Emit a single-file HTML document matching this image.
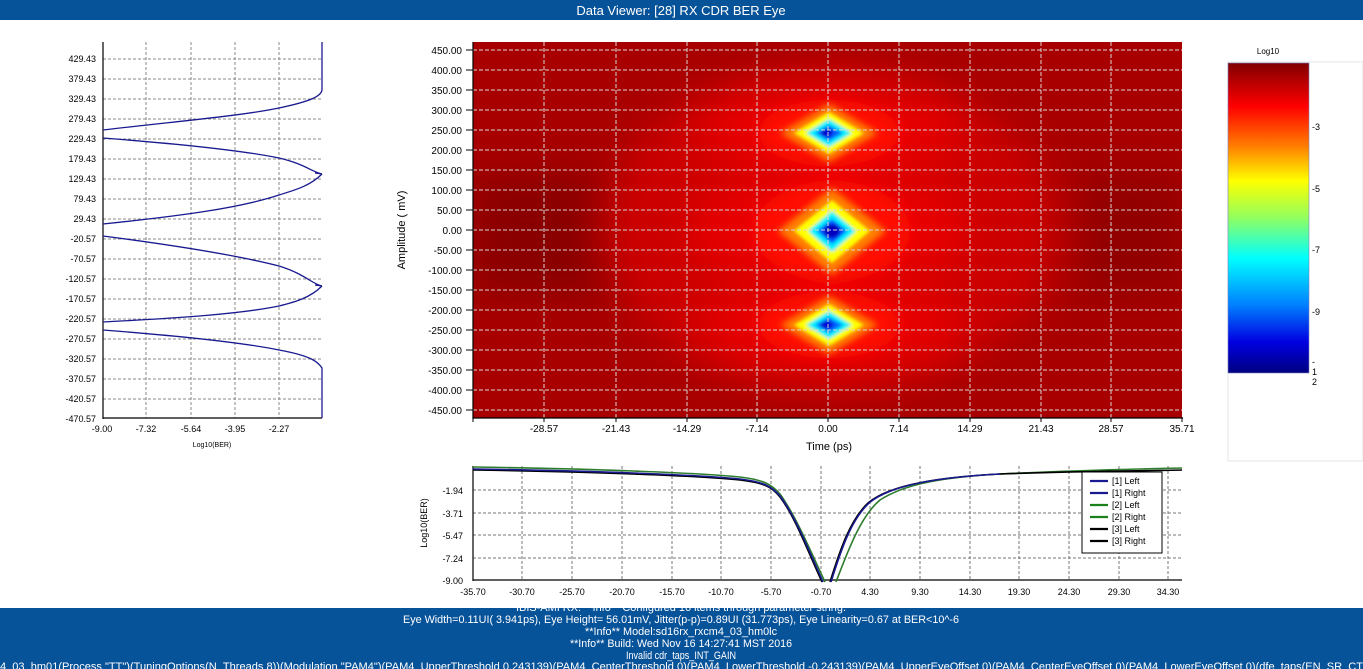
<!DOCTYPE html>
<html><head><meta charset="utf-8"><style>
html,body{margin:0;padding:0;width:1363px;height:669px;overflow:hidden;background:#fff;font-family:"Liberation Sans",sans-serif;}
svg text{font-family:"Liberation Sans",sans-serif;}
</style></head><body>
<svg width="1363" height="669" viewBox="0 0 1363 669" xmlns="http://www.w3.org/2000/svg">
<defs>
<linearGradient id="cb" x1="0" y1="0" x2="0" y2="1">
<stop offset="0" stop-color="#800000"/><stop offset="0.14" stop-color="#ff0000"/>
<stop offset="0.27" stop-color="#ff8000"/><stop offset="0.38" stop-color="#ffff00"/>
<stop offset="0.5" stop-color="#90ff60"/><stop offset="0.63" stop-color="#00ffff"/>
<stop offset="0.78" stop-color="#0080ff"/><stop offset="0.9" stop-color="#0000e0"/>
<stop offset="1" stop-color="#000080"/></linearGradient>
<filter id="b8" x="-50%" y="-50%" width="200%" height="200%"><feGaussianBlur stdDeviation="8"/></filter>
<filter id="b4" x="-50%" y="-50%" width="200%" height="200%"><feGaussianBlur stdDeviation="3.5"/></filter>
<filter id="b2" x="-50%" y="-50%" width="200%" height="200%"><feGaussianBlur stdDeviation="1.5"/></filter>
<filter id="b20" x="-50%" y="-50%" width="200%" height="200%"><feGaussianBlur stdDeviation="20"/></filter>
<clipPath id="hc"><rect x="473" y="42" width="709" height="376"/></clipPath>
</defs>
<rect x="0" y="0" width="1363" height="20" fill="#07539a"/>
<text x="681" y="15" fill="#fff" font-size="13" text-anchor="middle">Data Viewer: [28] RX CDR BER Eye</text>

<g clip-path="url(#hc)">
<rect x="473" y="42" width="709" height="376" fill="#a80000"/>
<rect x="473" y="175" width="280" height="120" fill="#8a0000" filter="url(#b20)"/>
<rect x="1080" y="175" width="102" height="120" fill="#920000" filter="url(#b20)"/>
<ellipse cx="829" cy="230" rx="230" ry="160" fill="#cc0000" filter="url(#b20)"/>
<ellipse cx="829" cy="133" rx="130" ry="45" fill="#e80000" filter="url(#b20)"/>
<ellipse cx="829" cy="230" rx="140" ry="60" fill="#e80000" filter="url(#b20)"/>
<ellipse cx="829" cy="325" rx="130" ry="45" fill="#e80000" filter="url(#b20)"/>
<g filter="url(#b8)">
<ellipse cx="829" cy="133" rx="70" ry="33" fill="#ff1000"/>
<ellipse cx="832" cy="231" rx="78" ry="50" fill="#ff1000"/>
<ellipse cx="829" cy="325" rx="70" ry="33" fill="#ff1000"/>
</g>
<g filter="url(#b4)">
<polygon points="780,133 829,104 878,133 829,162" fill="#ff8000"/>
<polygon points="778,231 832,188 886,231 832,275" fill="#ff8000"/>
<polygon points="780,325 829,296 878,325 829,354" fill="#ff8000"/>
</g>
<g filter="url(#b2)">
<polygon points="794,133 829,112 864,133 829,154" fill="#ffff00"/>
<polygon points="794,231 832,200 870,231 832,263" fill="#ffff00"/>
<polygon points="794,325 829,304 864,325 829,346" fill="#ffff00"/>
<polygon points="806,133 829,119 852,133 829,147" fill="#00f0ff"/>
<polygon points="808,231 832,211 856,231 832,252" fill="#00f0ff"/>
<polygon points="806,325 829,311 852,325 829,339" fill="#00f0ff"/>
<polygon points="815,133 829,125 843,133 829,141" fill="#0060ff"/>
<polygon points="817,231 832,219 847,231 832,244" fill="#0050ff"/>
<polygon points="815,325 829,317 843,325 829,333" fill="#0060ff"/>
<ellipse cx="827" cy="133" rx="6" ry="4" fill="#0000d0"/>
<ellipse cx="832" cy="231" rx="8" ry="7" fill="#0000c0"/>
<ellipse cx="827" cy="325" rx="6" ry="4" fill="#0000d0"/>
</g>
</g>
<g stroke="#d8d8d8" stroke-width="1" stroke-dasharray="4,2">
<line x1="544" y1="42" x2="544" y2="418"/><line x1="616" y1="42" x2="616" y2="418"/><line x1="687" y1="42" x2="687" y2="418"/><line x1="757" y1="42" x2="757" y2="418"/><line x1="828" y1="42" x2="828" y2="418"/><line x1="899" y1="42" x2="899" y2="418"/><line x1="970" y1="42" x2="970" y2="418"/><line x1="1041" y1="42" x2="1041" y2="418"/><line x1="1111" y1="42" x2="1111" y2="418"/>
<line x1="473" y1="50" x2="1182" y2="50"/><line x1="473" y1="70" x2="1182" y2="70"/><line x1="473" y1="90" x2="1182" y2="90"/><line x1="473" y1="110" x2="1182" y2="110"/><line x1="473" y1="130" x2="1182" y2="130"/><line x1="473" y1="150" x2="1182" y2="150"/><line x1="473" y1="170" x2="1182" y2="170"/><line x1="473" y1="190" x2="1182" y2="190"/><line x1="473" y1="210" x2="1182" y2="210"/><line x1="473" y1="230" x2="1182" y2="230"/><line x1="473" y1="250" x2="1182" y2="250"/><line x1="473" y1="270" x2="1182" y2="270"/><line x1="473" y1="290" x2="1182" y2="290"/><line x1="473" y1="310" x2="1182" y2="310"/><line x1="473" y1="330" x2="1182" y2="330"/><line x1="473" y1="350" x2="1182" y2="350"/><line x1="473" y1="370" x2="1182" y2="370"/><line x1="473" y1="390" x2="1182" y2="390"/><line x1="473" y1="410" x2="1182" y2="410"/>
</g>
<g stroke="#000" stroke-width="1.2">
<line x1="473" y1="42" x2="473" y2="419"/><line x1="473" y1="418" x2="1183" y2="418"/>
</g>
<g stroke="#000" stroke-width="1">
<line x1="466" y1="50" x2="473" y2="50"/><line x1="466" y1="70" x2="473" y2="70"/><line x1="466" y1="90" x2="473" y2="90"/><line x1="466" y1="110" x2="473" y2="110"/><line x1="466" y1="130" x2="473" y2="130"/><line x1="466" y1="150" x2="473" y2="150"/><line x1="466" y1="170" x2="473" y2="170"/><line x1="466" y1="190" x2="473" y2="190"/><line x1="466" y1="210" x2="473" y2="210"/><line x1="466" y1="230" x2="473" y2="230"/><line x1="466" y1="250" x2="473" y2="250"/><line x1="466" y1="270" x2="473" y2="270"/><line x1="466" y1="290" x2="473" y2="290"/><line x1="466" y1="310" x2="473" y2="310"/><line x1="466" y1="330" x2="473" y2="330"/><line x1="466" y1="350" x2="473" y2="350"/><line x1="466" y1="370" x2="473" y2="370"/><line x1="466" y1="390" x2="473" y2="390"/><line x1="466" y1="410" x2="473" y2="410"/>
<line x1="473" y1="418" x2="473" y2="422"/><line x1="544" y1="418" x2="544" y2="422"/><line x1="616" y1="418" x2="616" y2="422"/><line x1="687" y1="418" x2="687" y2="422"/><line x1="757" y1="418" x2="757" y2="422"/><line x1="828" y1="418" x2="828" y2="422"/><line x1="899" y1="418" x2="899" y2="422"/><line x1="970" y1="418" x2="970" y2="422"/><line x1="1041" y1="418" x2="1041" y2="422"/><line x1="1111" y1="418" x2="1111" y2="422"/><line x1="1182" y1="418" x2="1182" y2="422"/>
</g>
<g font-size="10" fill="#000" text-anchor="end">
<text x="462" y="54">450.00</text><text x="462" y="74">400.00</text><text x="462" y="94">350.00</text><text x="462" y="114">300.00</text><text x="462" y="134">250.00</text><text x="462" y="154">200.00</text><text x="462" y="174">150.00</text><text x="462" y="194">100.00</text><text x="462" y="214">50.00</text><text x="462" y="234">0.00</text><text x="462" y="254">-50.00</text><text x="462" y="274">-100.00</text><text x="462" y="294">-150.00</text><text x="462" y="314">-200.00</text><text x="462" y="334">-250.00</text><text x="462" y="354">-300.00</text><text x="462" y="374">-350.00</text><text x="462" y="394">-400.00</text><text x="462" y="414">-450.00</text>
</g>
<g font-size="10" fill="#000" text-anchor="middle">
<text x="544" y="432">-28.57</text><text x="616" y="432">-21.43</text><text x="687" y="432">-14.29</text><text x="757" y="432">-7.14</text><text x="828" y="432">0.00</text><text x="899" y="432">7.14</text><text x="970" y="432">14.29</text><text x="1041" y="432">21.43</text><text x="1182" y="432">35.71</text><text x="1111" y="432">28.57</text>
</g>
<text x="829" y="450" font-size="11" text-anchor="middle">Time (ps)</text>
<text transform="translate(405,230) rotate(-90)" font-size="11" text-anchor="middle">Amplitude ( mV)</text>

<rect x="1228" y="62" width="135" height="399" fill="#fff" stroke="#e4e4e4"/>
<rect x="1228" y="63" width="81" height="310" fill="url(#cb)" stroke="#8080c0" stroke-width="0.6"/>
<text x="1268" y="54" font-size="8" text-anchor="middle">Log10</text>
<g font-size="9" fill="#000">
<text x="1312" y="130">-3</text><text x="1312" y="192">-5</text><text x="1312" y="253">-7</text><text x="1312" y="315">-9</text><text x="1312" y="365">-</text><text x="1312" y="375">1</text><text x="1312" y="385">2</text>
</g>

<g stroke="#888" stroke-width="1" stroke-dasharray="3,2">
<line x1="146" y1="42" x2="146" y2="418"/><line x1="191" y1="42" x2="191" y2="418"/><line x1="235" y1="42" x2="235" y2="418"/><line x1="279" y1="42" x2="279" y2="418"/>
<line x1="103" y1="59" x2="322" y2="59"/><line x1="103" y1="79" x2="322" y2="79"/><line x1="103" y1="99" x2="322" y2="99"/><line x1="103" y1="119" x2="322" y2="119"/><line x1="103" y1="139" x2="322" y2="139"/><line x1="103" y1="159" x2="322" y2="159"/><line x1="103" y1="179" x2="322" y2="179"/><line x1="103" y1="199" x2="322" y2="199"/><line x1="103" y1="219" x2="322" y2="219"/><line x1="103" y1="239" x2="322" y2="239"/><line x1="103" y1="259" x2="322" y2="259"/><line x1="103" y1="279" x2="322" y2="279"/><line x1="103" y1="299" x2="322" y2="299"/><line x1="103" y1="319" x2="322" y2="319"/><line x1="103" y1="339" x2="322" y2="339"/><line x1="103" y1="359" x2="322" y2="359"/><line x1="103" y1="379" x2="322" y2="379"/><line x1="103" y1="399" x2="322" y2="399"/>
</g>
<g stroke="#000" stroke-width="1.2"><line x1="103" y1="42" x2="103" y2="419"/><line x1="103" y1="418" x2="322" y2="418"/></g>
<g font-size="9" fill="#000" text-anchor="end">
<text x="96" y="62">429.43</text><text x="96" y="82">379.43</text><text x="96" y="102">329.43</text><text x="96" y="122">279.43</text><text x="96" y="142">229.43</text><text x="96" y="162">179.43</text><text x="96" y="182">129.43</text><text x="96" y="202">79.43</text><text x="96" y="222">29.43</text><text x="96" y="242">-20.57</text><text x="96" y="262">-70.57</text><text x="96" y="282">-120.57</text><text x="96" y="302">-170.57</text><text x="96" y="322">-220.57</text><text x="96" y="342">-270.57</text><text x="96" y="362">-320.57</text><text x="96" y="382">-370.57</text><text x="96" y="402">-420.57</text><text x="96" y="422">-470.57</text>
</g>
<g font-size="9" fill="#000" text-anchor="middle">
<text x="102" y="432">-9.00</text><text x="146" y="432">-7.32</text><text x="191" y="432">-5.64</text><text x="235" y="432">-3.95</text><text x="279" y="432">-2.27</text>
</g>
<text x="212" y="447" font-size="7" text-anchor="middle">Log10(BER)</text>
<g fill="none" stroke="#1a1a90" stroke-width="1.3">
<path d="M322,42 L322,90 C321,96 312,101 279,108 C240,116 180,121 103,130"/>
<path d="M103,138 C180,144 240,150 279,158 C305,164 312,172 322,174 L315,173"/>
<path d="M322,174 C310,186 295,190 279,195 C240,208 180,216 103,224"/>
<path d="M103,236 C180,246 240,256 279,266 C305,274 312,284 322,286 L315,285"/>
<path d="M322,286 C310,298 295,302 279,306 C240,314 180,318 103,322"/>
<path d="M103,330 C180,336 240,342 279,350 C312,356 318,362 322,368 L322,418"/>
</g>

<g stroke="#777" stroke-width="1" stroke-dasharray="3,2">
<line x1="473" y1="490" x2="1182" y2="490"/><line x1="473" y1="513" x2="1182" y2="513"/><line x1="473" y1="535" x2="1182" y2="535"/><line x1="473" y1="558" x2="1182" y2="558"/>
<line x1="522" y1="466" x2="522" y2="580"/><line x1="572" y1="466" x2="572" y2="580"/><line x1="622" y1="466" x2="622" y2="580"/><line x1="672" y1="466" x2="672" y2="580"/><line x1="721" y1="466" x2="721" y2="580"/><line x1="771" y1="466" x2="771" y2="580"/><line x1="821" y1="466" x2="821" y2="580"/><line x1="870" y1="466" x2="870" y2="580"/><line x1="920" y1="466" x2="920" y2="580"/><line x1="970" y1="466" x2="970" y2="580"/><line x1="1019" y1="466" x2="1019" y2="580"/><line x1="1069" y1="466" x2="1069" y2="580"/><line x1="1119" y1="466" x2="1119" y2="580"/><line x1="1168" y1="466" x2="1168" y2="580"/>
</g>
<g stroke="#000" stroke-width="1.2"><line x1="473" y1="466" x2="473" y2="581"/><line x1="473" y1="580" x2="1182" y2="580"/></g>
<g fill="none" stroke-width="1.6">
<path d="M473,467 C600,469 700,473 740,477 C765,480 772,485 780,494 C795,515 808,545 825,582" stroke="#2e7d2e"/>
<path d="M473,470 C600,472 700,476 740,480 C765,483 772,487 780,497 C795,517 806,547 822,582" stroke="#000"/>
<path d="M473,469 C600,471 700,475 740,479 C765,482 772,487 780,496 C795,516 807,546 823,582" stroke="#1a1a90"/>
<path d="M836,582 C850,545 862,515 880,500 C900,487 930,478 1000,474 C1080,470 1140,469 1182,468" stroke="#2e7d2e"/>
<path d="M830,582 C840,550 850,520 868,503 C885,489 920,478 1000,474 C1080,471 1140,471 1182,470" stroke="#000"/>
<path d="M831,582 C841,550 851,520 869,503 C886,489 921,478 1000,474" stroke="#1a1a90"/>
</g>
<rect x="1082" y="472" width="80" height="81" fill="#fff" stroke="#000"/>
<g stroke-width="2.2">
<line x1="1090" y1="481" x2="1108" y2="481" stroke="#1a1a90"/><line x1="1090" y1="493" x2="1108" y2="493" stroke="#1a1a90"/>
<line x1="1090" y1="505" x2="1108" y2="505" stroke="#1a801a"/><line x1="1090" y1="517" x2="1108" y2="517" stroke="#1a801a"/>
<line x1="1090" y1="529" x2="1108" y2="529" stroke="#000"/><line x1="1090" y1="541" x2="1108" y2="541" stroke="#000"/>
</g>
<g font-size="9" fill="#000">
<text x="1112" y="484">[1] Left</text><text x="1112" y="496">[1] Right</text><text x="1112" y="508">[2] Left</text><text x="1112" y="520">[2] Right</text><text x="1112" y="532">[3] Left</text><text x="1112" y="544">[3] Right</text>
</g>
<g font-size="9" fill="#000" text-anchor="end">
<text x="463" y="494">-1.94</text><text x="463" y="517">-3.71</text><text x="463" y="539">-5.47</text><text x="463" y="562">-7.24</text><text x="463" y="584">-9.00</text>
</g>
<g font-size="9" fill="#000" text-anchor="middle">
<text x="473" y="595">-35.70</text><text x="522" y="595">-30.70</text><text x="572" y="595">-25.70</text><text x="622" y="595">-20.70</text><text x="672" y="595">-15.70</text><text x="721" y="595">-10.70</text><text x="771" y="595">-5.70</text><text x="821" y="595">-0.70</text><text x="870" y="595">4.30</text><text x="920" y="595">9.30</text><text x="970" y="595">14.30</text><text x="1019" y="595">19.30</text><text x="1069" y="595">24.30</text><text x="1119" y="595">29.30</text><text x="1168" y="595">34.30</text>
</g>
<text transform="translate(427,523) rotate(-90)" font-size="9" text-anchor="middle">Log10(BER)</text>

<rect x="0" y="608" width="1363" height="61" fill="#07539a"/>
<g fill="#fff" font-size="11" text-anchor="middle">
<text x="681" y="611" textLength="330" lengthAdjust="spacingAndGlyphs">IBIS-AMI RX: **Info** Configured 16 items through parameter string.</text>
<text x="681" y="623" textLength="556" lengthAdjust="spacingAndGlyphs">Eye Width=0.11UI( 3.941ps), Eye Height=  56.01mV, Jitter(p-p)=0.89UI (31.773ps), Eye Linearity=0.67 at BER&lt;10^-6</text>
<text x="681" y="635" textLength="192" lengthAdjust="spacingAndGlyphs">**Info** Model:sd16rx_rxcm4_03_hm0lc</text>
<text x="681" y="647" textLength="222" lengthAdjust="spacingAndGlyphs">**Info** Build: Wed Nov 16 14:27:41 MST 2016</text>
<text x="681" y="659" textLength="110" lengthAdjust="spacingAndGlyphs">Invalid cdr_taps_INT_GAIN</text>
<text x="0" y="670" text-anchor="start" textLength="1363" lengthAdjust="spacingAndGlyphs">4_03_hm01(Process "TT")(TuningOptions(N_Threads 8))(Modulation "PAM4")(PAM4_UpperThreshold 0.243139)(PAM4_CenterThreshold 0)(PAM4_LowerThreshold -0.243139)(PAM4_UpperEyeOffset 0)(PAM4_CenterEyeOffset 0)(PAM4_LowerEyeOffset 0)(dfe_taps(EN_SR_CT</text>
</g>
</svg>
</body></html>
